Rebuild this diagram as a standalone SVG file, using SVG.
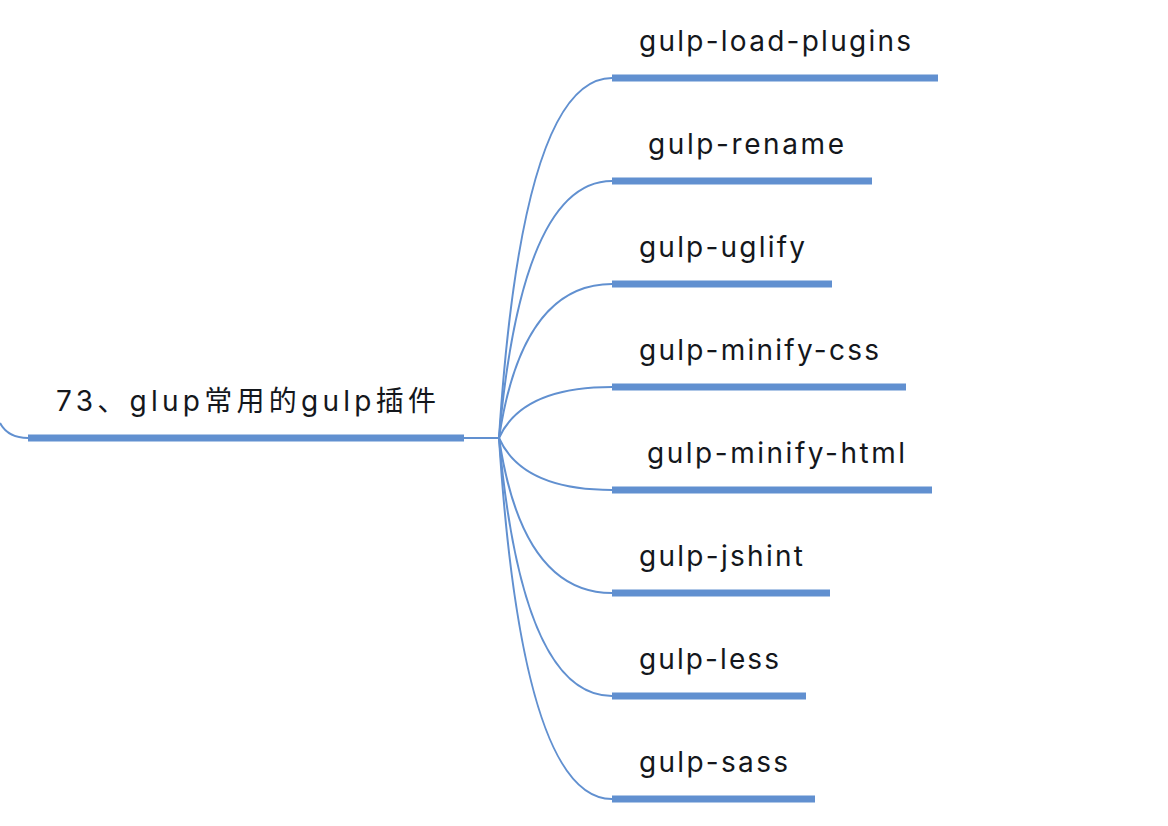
<svg xmlns="http://www.w3.org/2000/svg" width="1168" height="826" viewBox="0 0 1168 826">
<style>
.t{font-family:Inter,"Noto Sans CJK SC",sans-serif;font-size:28px;fill:#14171c}
.bar{stroke:#6190d0;stroke-width:7;fill:none}
.c{stroke:#6190d0;stroke-width:2;fill:none}
</style>
<rect width="1168" height="826" fill="#fff"/>
<g id="connectors">
<path class="c" d="M0,423 Q8,438 28,438"/>
<path class="c" d="M464,438 L499,438"/>
<path class="c" d="M499,438 Q522,78 612,78"/>
<path class="c" d="M499,438 Q522,181 612,181"/>
<path class="c" d="M499,438 Q522,284 612,284"/>
<path class="c" d="M499,438 Q522,387 612,387"/>
<path class="c" d="M499,438 Q522,490 612,490"/>
<path class="c" d="M499,438 Q522,593 612,593"/>
<path class="c" d="M499,438 Q522,696 612,696"/>
<path class="c" d="M499,438 Q522,799 612,799"/>
</g>
<g id="root"><line class="bar" x1="28" y1="438" x2="464" y2="438"/><text class="t" x="56" y="411" textLength="380" lengthAdjust="spacing">73、glup常用的gulp插件</text></g>
<g id="n1"><line class="bar" x1="612" y1="78" x2="938" y2="78"/><text class="t" x="639" y="51" textLength="272" lengthAdjust="spacing">gulp-load-plugins</text></g>
<g id="n2"><line class="bar" x1="612" y1="181" x2="872" y2="181"/><text class="t" x="648" y="154" textLength="196" lengthAdjust="spacing">gulp-rename</text></g>
<g id="n3"><line class="bar" x1="612" y1="284" x2="832" y2="284"/><text class="t" x="639" y="257" textLength="166" lengthAdjust="spacing">gulp-uglify</text></g>
<g id="n4"><line class="bar" x1="612" y1="387" x2="906" y2="387"/><text class="t" x="639" y="360" textLength="240" lengthAdjust="spacing">gulp-minify-css</text></g>
<g id="n5"><line class="bar" x1="612" y1="490" x2="932" y2="490"/><text class="t" x="647" y="463" textLength="258" lengthAdjust="spacing">gulp-minify-html</text></g>
<g id="n6"><line class="bar" x1="612" y1="593" x2="830" y2="593"/><text class="t" x="639" y="566" textLength="164" lengthAdjust="spacing">gulp-jshint</text></g>
<g id="n7"><line class="bar" x1="612" y1="696" x2="806" y2="696"/><text class="t" x="639" y="669" textLength="140" lengthAdjust="spacing">gulp-less</text></g>
<g id="n8"><line class="bar" x1="612" y1="799" x2="815" y2="799"/><text class="t" x="639" y="772" textLength="149" lengthAdjust="spacing">gulp-sass</text></g>
</svg>
